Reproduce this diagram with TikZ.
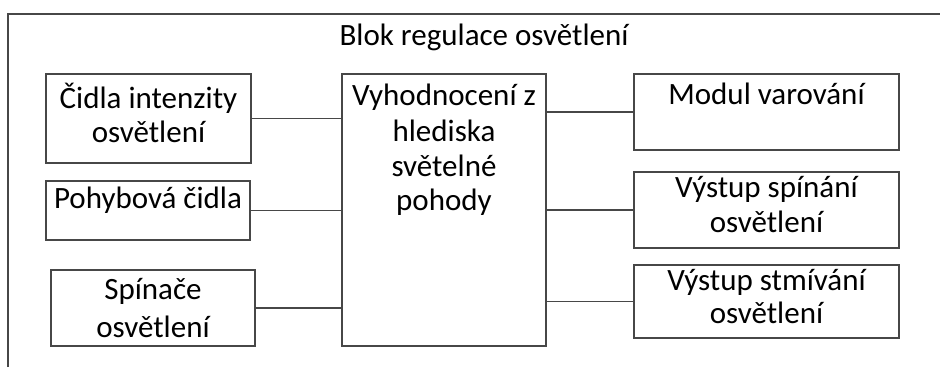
\documentclass[tikz,border=0pt]{standalone}
\usepackage{fontspec}
\setmainfont{Carlito}
\begin{document}
\begin{tikzpicture}[x=1pt,y=-1pt,
  line/.style={draw=black!72, line width=1.1pt},
  box/.style={line, rectangle, inner sep=0pt, outer sep=0pt, fill=white},
  txt/.style={anchor=base, inner sep=0pt, font=\fontsize{31}{36}\selectfont, text=black}]
  \useasboundingbox (0,0) rectangle (940,367);

  % outer block frame (open to the right and bottom)
  \coordinate (fbl) at (8,367);
  \coordinate (ftl) at (8,14);
  \coordinate (ftr) at (940,14);
  \draw[line] (fbl) -- (ftl) -- (ftr);
  \node[txt] (title) at (484,45) {Blok regulace osvětlení};

  % inputs
  \node[box, minimum width=205pt, minimum height=89pt] (b1) at (148.5,118.5) {};
  \node[txt] (b1a) at (148.5,108) {Čidla intenzity};
  \node[txt] (b1b) at (148.5,142) {osvětlení};

  \node[box, minimum width=204pt, minimum height=59pt] (b2) at (148,210.5) {};
  \node[txt] (b2a) at (148,208) {Pohybová čidla};

  \node[box, minimum width=204pt, minimum height=76pt] (b3) at (153,308) {};
  \node[txt] (b3a) at (153,299) {Spínače};
  \node[txt] (b3b) at (153,337) {osvětlení};

  % evaluation block
  \node[box, minimum width=204pt, minimum height=272pt] (c) at (444,210) {};
  \node[txt] (ca) at (444,105) {Vyhodnocení z};
  \node[txt] (cb) at (444,141) {hlediska};
  \node[txt] (cc) at (444,176) {světelné};
  \node[txt] (cd) at (444,210) {pohody};

  % outputs
  \node[box, minimum width=265pt, minimum height=76pt] (o1) at (766.5,112) {};
  \node[txt] (o1a) at (766.5,104) {Modul varování};

  \node[box, minimum width=265pt, minimum height=76pt] (o2) at (766.5,210) {};
  \node[txt] (o2a) at (766.5,197) {Výstup spínání};
  \node[txt] (o2b) at (766.5,232) {osvětlení};

  \node[box, minimum width=265pt, minimum height=73pt] (o3) at (766.5,301.5) {};
  \node[txt] (o3a) at (766.5,290) {Výstup stmívání};
  \node[txt] (o3b) at (766.5,323) {osvětlení};

  % connections
  \draw[line] (b1.east) -- (b1.east -| c.west);
  \draw[line] (b2.east) -- (b2.east -| c.west);
  \draw[line] (b3.east) -- (b3.east -| c.west);
  \draw[line] (o1.west -| c.east) -- (o1.west);
  \draw[line] (o2.west -| c.east) -- (o2.west);
  \draw[line] (o3.west -| c.east) -- (o3.west);
\end{tikzpicture}
\end{document}
